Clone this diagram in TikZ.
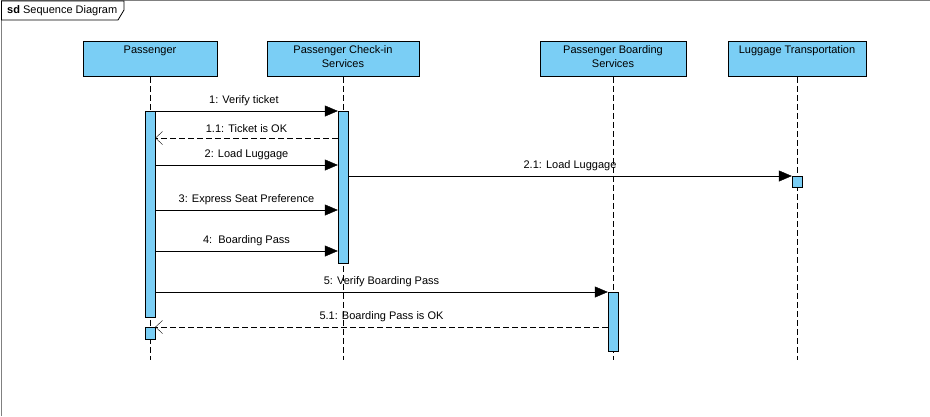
\documentclass[tikz,border=0pt]{standalone}
\usepackage{fontspec}
\setmainfont{Liberation Sans}
\usetikzlibrary{arrows.meta,positioning}
\definecolor{lifeblue}{RGB}{122,206,245}
\definecolor{framegray}{RGB}{128,128,128}

\begin{document}
\begin{tikzpicture}
    [x=1pt, y=-1pt,
      font=\fontsize{11}{14}\selectfont,
      head/.style={draw, thick, fill=lifeblue, anchor=north, minimum height=35pt, inner sep=0pt},
      title/.style={anchor=north, align=center, inner sep=0pt},
      lifeline/.style={dashed, dash pattern=on 6pt off 3pt},
      bar/.style={draw, fill=lifeblue, anchor=north, minimum width=10pt, inner sep=0pt},
      msg/.style={-{Triangle[length=13pt,width=11pt]}},
      reply/.style={dash pattern=on 6pt off 3pt, -{Straight Barb[length=7pt,width=13pt]}},
      lbl/.style={midway, above=5.5pt, inner sep=0pt}]
    \useasboundingbox (0,0) rectangle (930,416);
    % frame
    \draw[framegray] (1,416) -- (1,0.5) -- (930,0.5);
    \draw[thick, fill=white] (1.5,1) -- (124,1) -- (124,10) -- (118,20) -- (1.5,20) -- cycle;
    \node[anchor=west, inner sep=0pt] (sd) at (7,10.5) {\textbf{sd} Sequence Diagram};
    % lifeline heads
    \node[head, minimum width=134pt] (p) at (150,41) {};
    \node[head, minimum width=152pt] (ci) at (343,41) {};
    \node[head, minimum width=146pt] (bs) at (613,41) {};
    \node[head, minimum width=138pt] (lt) at (797,41) {};
    \node[title] (p-t) at ([yshift=-4.5pt]p.north) {Passenger};
    \node[title] (ci-t) at ([yshift=-4.5pt]ci.north) {Passenger Check-in\\Services};
    \node[title] (bs-t) at ([yshift=-4.5pt]bs.north) {Passenger Boarding\\Services};
    \node[title] (lt-t) at ([yshift=-4.5pt]lt.north) {Luggage Transportation};
    % lifelines
    \foreach \h in {p,ci,bs,lt}
      \draw[lifeline] (\h.south) -- (\h.south |- 0,360);
    % activations
    \node[bar, minimum height=206pt] (pa) at (150,111) {};
    \node[bar, minimum height=12pt] (pb) at (150,327) {};
    \node[bar, minimum height=152pt] (ca) at (343,111) {};
    \node[bar, minimum height=11pt] (la) at (797,176) {};
    \node[bar, minimum height=59pt] (ba) at (613,292) {};
    % message rows
    \coordinate (r11) at (0,138);
    \coordinate (r2) at (0,165);
    \coordinate (r3) at (0,210);
    \coordinate (r4) at (0,251);
    \coordinate (r5) at (0,292);
    % messages
    \draw[msg] (pa.north) -- (ca.north west) node[lbl] {1: Verify ticket};
    \draw[reply] (ca.west |- r11) -- (pa.east |- r11) node[lbl] {1.1: Ticket is OK};
    \draw[msg] (pa.east |- r2) -- (ca.west |- r2) node[lbl] {2: Load Luggage};
    \draw[msg] (ca.east |- la.north) -- (la.north west) node[lbl] {2.1: Load Luggage};
    \draw[msg] (pa.east |- r3) -- (ca.west |- r3) node[lbl] {3: Express Seat Preference};
    \draw[msg] (pa.east |- r4) -- (ca.west |- r4) node[lbl] {4:\ \ Boarding Pass};
    \draw[msg] (pa.east |- r5) -- (ba.north west) node[lbl] {5: Verify Boarding Pass};
    \draw[reply] (ba.west |- pb.north) -- (pb.north east) node[lbl] {5.1: Boarding Pass is OK};
\end{tikzpicture}
\end{document}
